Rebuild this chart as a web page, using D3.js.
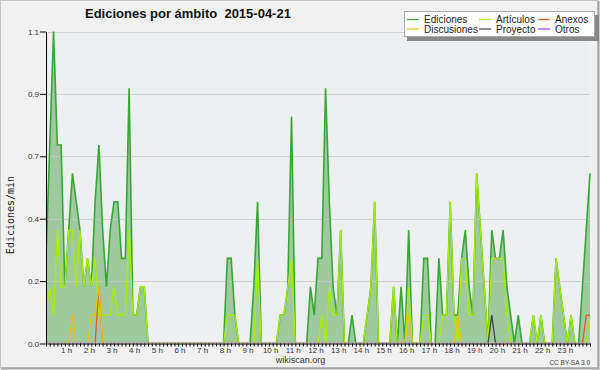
<!DOCTYPE html>
<html>
<head>
<meta charset="utf-8">
<script src="https://cdn.jsdelivr.net/npm/d3@7"></script>
<style>
body { margin: 0; background: #f1f1f1; }
svg { display: block; font-family: "Liberation Sans", Arial, sans-serif; }
</style>
</head>
<body>
<script>
const width = 600;
const height = 370;

// one value every 10 minutes, 00:00 -> 24:00 (edits per minute)
const ediciones = [
    0.3, 0.7, 1.1, 0.7, 0.7, 0.2, 0.4, 0.6, 0.5, 0.4, 0.2, 0.3,
    0.2, 0.5, 0.7, 0.4, 0.2, 0.4, 0.5, 0.5, 0.3, 0.3, 0.9, 0.1,
    0.1, 0.2, 0.2, 0, 0, 0, 0, 0, 0, 0, 0, 0,
    0, 0, 0, 0, 0, 0, 0, 0, 0, 0, 0, 0,
    0.3, 0.3, 0.1, 0, 0, 0, 0, 0.2, 0.5, 0, 0, 0,
    0, 0, 0.1, 0.1, 0.2, 0.8, 0, 0, 0, 0, 0.2, 0.1,
    0.3, 0.3, 0.9, 0.5, 0.2, 0.1, 0.4, 0, 0, 0.1, 0, 0,
    0, 0.1, 0.2, 0.5, 0, 0, 0, 0, 0.2, 0, 0.2, 0,
    0.4, 0, 0, 0, 0.3, 0.3, 0, 0, 0.3, 0.1, 0.1, 0.5,
    0.1, 0.1, 0.3, 0.4, 0.2, 0.1, 0.6, 0.4, 0.2, 0, 0.4, 0.3,
    0.3, 0.4, 0.2, 0.1, 0, 0.1, 0, 0, 0, 0.1, 0, 0.1,
    0, 0, 0, 0.3, 0.2, 0.1, 0, 0.1, 0, 0, 0.2, 0.4,
    0.6
];
const articulos = [
    0.1, 0.2, 0.1, 0.4, 0.2, 0.2, 0.4, 0.4, 0.2, 0.4, 0.2, 0.3,
    0.2, 0.3, 0.1, 0.1, 0.1, 0.1, 0.2, 0.1, 0.1, 0.1, 0.4, 0.1,
    0.1, 0.2, 0.2, 0, 0, 0, 0, 0, 0, 0, 0, 0,
    0, 0, 0, 0, 0, 0, 0, 0, 0, 0, 0, 0,
    0.1, 0.1, 0.1, 0, 0, 0, 0, 0, 0.3, 0, 0, 0,
    0, 0, 0.1, 0.1, 0.2, 0.3, 0, 0, 0, 0, 0, 0,
    0, 0.1, 0, 0.2, 0.1, 0.1, 0.4, 0, 0, 0, 0, 0,
    0, 0.1, 0.2, 0.5, 0, 0, 0, 0, 0.2, 0, 0, 0,
    0.2, 0, 0, 0, 0.1, 0.1, 0, 0, 0, 0.1, 0.1, 0.5,
    0.1, 0, 0.3, 0.3, 0.1, 0.1, 0.6, 0.4, 0.2, 0, 0.3, 0.3,
    0.3, 0.3, 0.1, 0, 0, 0, 0, 0, 0, 0.1, 0, 0.1,
    0, 0, 0, 0.3, 0.2, 0.1, 0, 0.1, 0, 0, 0, 0,
    0.1
];
const anexos = [
    0, 0, 0, 0, 0, 0, 0, 0, 0, 0, 0, 0,
    0, 0, 0.2, 0, 0, 0, 0, 0, 0, 0, 0, 0,
    0, 0, 0, 0, 0, 0, 0, 0, 0, 0, 0, 0,
    0, 0, 0, 0, 0, 0, 0, 0, 0, 0, 0, 0,
    0, 0, 0, 0, 0, 0, 0, 0, 0, 0, 0, 0,
    0, 0, 0, 0, 0, 0, 0, 0, 0, 0, 0, 0,
    0, 0, 0, 0, 0, 0, 0, 0, 0, 0, 0, 0,
    0, 0, 0, 0, 0, 0, 0, 0, 0, 0, 0, 0,
    0, 0, 0, 0, 0, 0, 0, 0, 0, 0, 0, 0,
    0, 0, 0, 0, 0, 0, 0, 0, 0, 0, 0, 0,
    0, 0, 0, 0, 0, 0, 0, 0, 0, 0, 0, 0,
    0, 0, 0, 0, 0, 0, 0, 0, 0, 0, 0, 0.1,
    0.1
];
const discusiones = [
    0, 0, 0, 0, 0, 0, 0, 0.1, 0, 0, 0, 0,
    0.1, 0.1, 0.2, 0, 0, 0, 0, 0, 0, 0, 0, 0,
    0, 0, 0, 0, 0, 0, 0, 0, 0, 0, 0, 0,
    0, 0, 0, 0, 0, 0, 0, 0, 0, 0, 0, 0,
    0, 0, 0, 0, 0, 0, 0, 0, 0, 0, 0, 0,
    0, 0, 0, 0, 0, 0, 0, 0, 0, 0, 0, 0,
    0, 0, 0, 0, 0, 0, 0, 0, 0, 0, 0, 0,
    0, 0, 0, 0, 0, 0, 0, 0, 0, 0, 0, 0,
    0.1, 0, 0, 0, 0, 0, 0, 0, 0, 0, 0, 0,
    0, 0.1, 0, 0, 0, 0, 0, 0, 0, 0, 0, 0,
    0, 0, 0, 0, 0, 0, 0, 0, 0, 0, 0, 0,
    0, 0, 0, 0, 0, 0, 0, 0, 0, 0, 0, 0,
    0
];
const proyecto = [
    0, 0, 0, 0, 0, 0, 0, 0, 0, 0, 0, 0,
    0, 0, 0, 0, 0, 0, 0, 0, 0, 0, 0, 0,
    0, 0, 0, 0, 0, 0, 0, 0, 0, 0, 0, 0,
    0, 0, 0, 0, 0, 0, 0, 0, 0, 0, 0, 0,
    0, 0, 0, 0, 0, 0, 0, 0, 0, 0, 0, 0,
    0, 0, 0, 0, 0, 0, 0, 0, 0, 0, 0, 0,
    0, 0, 0, 0, 0, 0, 0, 0, 0, 0, 0, 0,
    0, 0, 0, 0, 0, 0, 0, 0, 0, 0, 0, 0,
    0, 0, 0, 0, 0, 0, 0, 0, 0, 0, 0, 0,
    0, 0, 0, 0, 0, 0, 0, 0, 0, 0, 0.1, 0,
    0, 0, 0, 0, 0, 0, 0, 0, 0, 0, 0, 0,
    0, 0, 0, 0, 0, 0, 0, 0, 0, 0, 0, 0,
    0
];
const otros = [
    0, 0, 0, 0, 0, 0, 0, 0, 0, 0, 0, 0,
    0, 0, 0, 0, 0, 0, 0, 0, 0, 0, 0, 0,
    0, 0, 0, 0, 0, 0, 0, 0, 0, 0, 0, 0,
    0, 0, 0, 0, 0, 0, 0, 0, 0, 0, 0, 0,
    0, 0, 0, 0, 0, 0, 0, 0, 0, 0, 0, 0,
    0, 0, 0, 0, 0, 0, 0, 0, 0, 0, 0, 0,
    0, 0, 0, 0, 0, 0, 0, 0, 0, 0, 0, 0,
    0, 0, 0, 0, 0, 0, 0, 0, 0, 0, 0, 0,
    0, 0, 0, 0, 0, 0, 0, 0, 0, 0, 0, 0,
    0, 0, 0, 0, 0, 0, 0, 0, 0, 0, 0, 0,
    0, 0, 0, 0, 0, 0, 0, 0, 0, 0, 0, 0,
    0, 0, 0, 0, 0, 0, 0, 0, 0, 0, 0, 0,
    0
];

const seriesNames = ["Ediciones", "Artículos", "Anexos", "Discusiones", "Proyecto", "Otros"];
const seriesValues = [ediciones, articulos, anexos, discusiones, proyecto, otros];
const seriesColors = ["#35a835", "#aaee00", "#ee5522", "#f2c200", "#444444", "#9944ee"];

const yTicks = [0, 0.22, 0.44, 0.66, 0.88, 1.1];
const yTickLabels = ["0.0", "0.2", "0.4", "0.7", "0.9", "1.1"];
const hourLabels = d3.range(1, 24).map(h => h + " h");

const plot = { left: 46, right: 590, top: 31.5, bottom: 343.5 };

const minutes = ediciones.map((d, i) => i * 10);

let svg = d3.select("body").append("svg")
    .attr("width", width)
    .attr("height", height);

// frame
svg.append("rect")
    .attr("x", 0.5).attr("y", 0.5)
    .attr("width", width - 3).attr("height", height - 3)
    .attr("fill", "#f1f1f1")
    .attr("stroke", "#c4c4c4");
svg.append("path")
    .attr("d", `M${width - 1.5},1V${height - 1.5}H1`)
    .attr("fill", "none")
    .attr("stroke", "#a8a8a8")
    .attr("stroke-width", 2);

// keep zero-level strokes hidden under the x axis
svg.append("clipPath")
    .attr("id", "plot-clip")
    .append("rect")
    .attr("x", plot.left).attr("y", 0)
    .attr("width", plot.right - plot.left + 2)
    .attr("height", plot.bottom - 0.9);

let xScale = d3.scaleLinear()
    .domain([0, 1440])
    .range([plot.left, plot.right]);

let yScale = d3.scaleLinear()
    .domain([0, 1.1])
    .range([plot.bottom, plot.top]);

// plot background
svg.append("rect")
    .attr("x", plot.left).attr("y", plot.top)
    .attr("width", plot.right - plot.left)
    .attr("height", plot.bottom - plot.top)
    .attr("fill", "#eeeff1");

let chart = svg.append("g")
    .attr("clip-path", "url(#plot-clip)");

// Ediciones area
chart.append("path")
    .datum(ediciones)
    .attr("fill", "#9fca9f")
    .attr("d", d3.area()
        .x((d, i) => xScale(minutes[i]))
        .y0(plot.bottom + 1)
        .y1(d => yScale(d)));

// grid
chart.append("g")
    .selectAll("line")
    .data(yTicks.slice(1))
    .join("line")
    .attr("x1", plot.left).attr("x2", plot.right)
    .attr("y1", d => Math.round(yScale(d)) + 0.5)
    .attr("y2", d => Math.round(yScale(d)) + 0.5)
    .attr("stroke", "#c8c8c8")
    .attr("stroke-opacity", 0.8);

// series lines
let line = d3.line()
    .x((d, i) => xScale(minutes[i]))
    .y(d => yScale(d));

chart.append("g")
    .selectAll("path")
    .data(seriesValues)
    .join("path")
    .attr("fill", "none")
    .attr("stroke", (d, i) => seriesColors[i])
    .attr("stroke-width", (d, i) => i === 0 ? 1.6 : 1.3)
    .attr("d", line);

// axes
let yAxis = svg.append("g")
    .attr("transform", `translate(${plot.left},0)`)
    .call(d3.axisLeft(yScale)
        .tickValues(d3.range(0, 21).map(k => k * 0.055))
        .tickSize(3)
        .tickSizeOuter(0)
        .tickFormat(""));
yAxis.call(d3.axisLeft(yScale)
        .tickValues(yTicks)
        .tickSize(6)
        .tickSizeOuter(0)
        .tickFormat((d, i) => yTickLabels[i]));
yAxis.selectAll("text")
    .attr("x", -7)
    .style("font-size", "8px")
    .attr("fill", "#333");
yAxis.selectAll("line").attr("stroke", "#000");

let xAxis = svg.append("g")
    .attr("transform", `translate(0,${plot.bottom})`)
    .call(d3.axisBottom(xScale)
        .tickValues(minutes)
        .tickSize(3)
        .tickSizeOuter(0)
        .tickFormat(""));
xAxis.select(".domain").attr("stroke", "#000");

svg.append("g")
    .selectAll("text")
    .data(hourLabels)
    .join("text")
    .attr("x", (d, i) => xScale((i + 1) * 60) - 2)
    .attr("y", 353)
    .attr("text-anchor", "middle")
    .style("font-size", "8px")
    .attr("fill", "#333")
    .text(d => d);

// titles
svg.append("text")
    .attr("x", 85).attr("y", 18)
    .style("font-size", "13px")
    .style("font-weight", "bold")
    .style("white-space", "pre")
    .attr("fill", "#111")
    .text("Ediciones por ámbito  2015-04-21");

svg.append("text")
    .attr("transform", "translate(13.5,215) rotate(-90)")
    .attr("text-anchor", "middle")
    .style("font-family", "'DejaVu Sans Mono', monospace")
    .style("font-size", "10px")
    .attr("fill", "#222")
    .text("Ediciones/min");

svg.append("text")
    .attr("x", 300.5).attr("y", 363)
    .attr("text-anchor", "middle")
    .style("font-size", "9px")
    .attr("fill", "#333")
    .text("wikiscan.org");

svg.append("text")
    .attr("x", 590).attr("y", 365)
    .attr("text-anchor", "end")
    .style("font-size", "6.5px")
    .attr("fill", "#444")
    .text("CC BY-SA 3.0");

// legend
let legend = svg.append("g");
legend.append("rect")
    .attr("x", 407).attr("y", 15)
    .attr("width", 192).attr("height", 26)
    .attr("fill", "#888");
legend.append("rect")
    .attr("x", 404.5).attr("y", 11.5)
    .attr("width", 190).attr("height", 25)
    .attr("fill", "#fff")
    .attr("stroke", "#aaa");

const legendCols = [407, 479, 538];
const legendRows = [19.5, 29];

let items = legend.selectAll(".item")
    .data(seriesNames)
    .join("g")
    .attr("class", "item")
    .attr("transform", (d, i) => `translate(${legendCols[i % 3]},${legendRows[Math.floor(i / 3)]})`);
items.append("line")
    .attr("x1", 0).attr("x2", 12)
    .attr("stroke", (d, i) => seriesColors[i])
    .attr("stroke-width", 1.2);
items.append("text")
    .attr("x", 17).attr("y", 3.5)
    .style("font-size", "10px")
    .attr("fill", "#222")
    .text(d => d);
</script>
</body>
</html>
